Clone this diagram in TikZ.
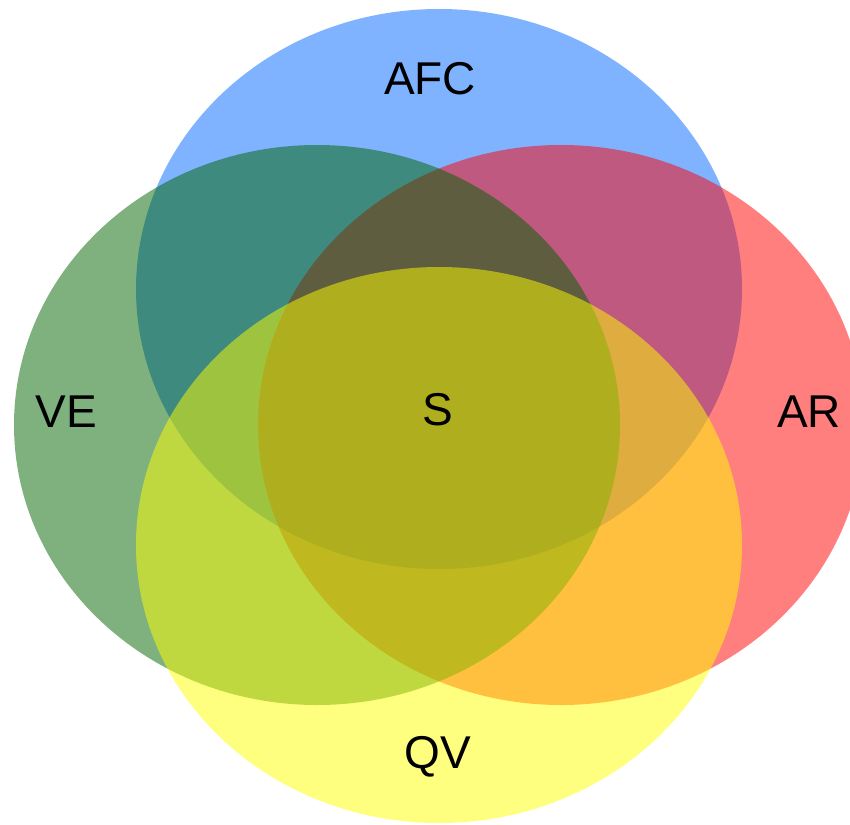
\documentclass[tikz,border=0pt]{standalone}
\usepackage{fontspec}
\setmainfont{Liberation Sans}
\definecolor{cblue}{RGB}{0,102,255}
\definecolor{cred}{RGB}{255,0,0}
\definecolor{cgreen}{RGB}{0,100,0}
\definecolor{cyellow}{RGB}{255,255,0}
\begin{document}
\begin{tikzpicture}[x=1pt,y=-1pt,
  setshape/.style={fill opacity=0.5, draw=none},
  lbl/.style={inner sep=0pt, font=\fontsize{46}{50}\selectfont, text=black}]
\useasboundingbox (0,0) rectangle (850,824);
\fill[setshape, cblue] (439,289) ellipse [x radius=303, y radius=280];
\fill[setshape, cred] (561,425) ellipse [x radius=303, y radius=280];
\fill[setshape, cgreen] (317,425) ellipse [x radius=303, y radius=280];
\fill[setshape, cyellow] (439,545) ellipse [x radius=303, y radius=278];
\node[lbl] (afc) at (430,79) {AFC};
\node[lbl] (ve) at (66,412) {VE};
\node[lbl] (s) at (438,410) {S};
\node[lbl] (ar) at (809,412) {AR};
\node[lbl] (qv) at (438,757) {QV};
\end{tikzpicture}
\end{document}
